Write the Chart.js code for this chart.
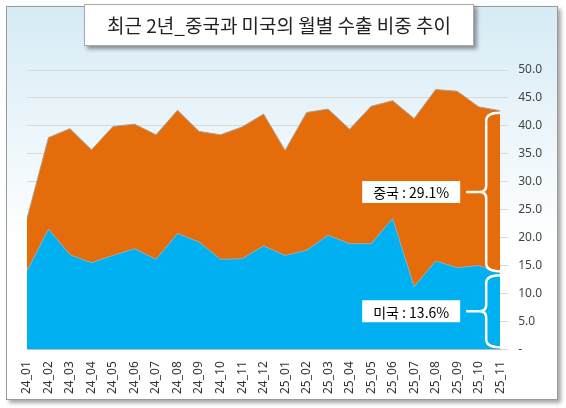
<!DOCTYPE html>
<html><head><meta charset="utf-8">
<script src="https://cdn.jsdelivr.net/npm/chart.js@4"></script>
<style>
body{margin:0;background:#fff;width:566px;height:408px;overflow:hidden;font-family:"Noto Sans CJK KR",sans-serif}
#frame{position:absolute;left:6px;top:6px;width:550px;height:392px;border:1px solid #9a9a9a;box-shadow:3px 3px 4px rgba(0,0,0,0.35);background:linear-gradient(#d6ebf5 0%,#ffffff 60%,#ffffff 100%)}
#title{position:absolute;left:84px;top:4px;width:388px;height:40px;background:#fff;border:1px solid #aaa;box-shadow:3px 3px 4px rgba(0,0,0,0.4);font-size:19px;text-align:center;line-height:40px;color:#222;z-index:2}
#wrap{position:absolute;left:0;top:0;width:566px;height:408px}
</style></head><body>
<div id="frame"></div>
<div id="title">최근 2년_중국과 미국의 월별 수출 비중 추이</div>
<div id="wrap"><canvas id="c" width="566" height="408"></canvas></div>
<script>
const categories=["24_01","24_02","24_03","24_04","24_05","24_06","24_07","24_08","24_09","24_10","24_11","24_12","25_01","25_02","25_03","25_04","25_05","25_06","25_07","25_08","25_09","25_10","25_11"];
const usValues=[14.0,21.5,16.9,15.5,16.8,18.0,16.1,20.7,19.2,16.1,16.2,18.5,16.8,17.7,20.4,18.9,18.9,23.4,11.2,15.8,14.6,15.0,13.6];
const totalValues=[23.4,37.9,39.5,35.7,39.9,40.3,38.4,42.8,39.0,38.4,39.8,42.1,35.6,42.4,43.0,39.4,43.5,44.5,41.3,46.5,46.2,43.4,42.7];
const chinaValues=totalValues.map((t,i)=>+(t-usValues[i]).toFixed(1));
const yTicks=[0,5,10,15,20,25,30,35,40,45,50];

const braces={id:'braces',afterDatasetsDraw(ch){
  const c=ch.ctx,y=ch.scales.y,x=ch.scales.x;
  const bx=x.right-14;
  const us=usValues[usValues.length-1],cn=chinaValues[chinaValues.length-1];
  function brace(v0,v1,label){
    const top=y.getPixelForValue(v1)+2,bot=y.getPixelForValue(v0)-2,mid=(top+bot)/2;
    c.save();c.strokeStyle='#fff';c.lineWidth=2.5;c.beginPath();
    c.moveTo(bx+14,top);c.quadraticCurveTo(bx,top,bx,top+8);
    c.lineTo(bx,mid-6);c.quadraticCurveTo(bx,mid,bx-7,mid);
    c.quadraticCurveTo(bx,mid,bx,mid+6);c.lineTo(bx,bot-8);
    c.quadraticCurveTo(bx,bot,bx+14,bot);c.stroke();
    c.beginPath();c.moveTo(bx-7,mid);c.lineTo(bx-20,mid);c.stroke();
    c.font='14px "Noto Sans CJK KR"';
    const w=c.measureText(label).width+22;
    c.fillStyle='#fff';c.fillRect(bx-26-w,mid-11,w,22);
    c.fillStyle='#000';c.textBaseline='middle';c.textAlign='center';
    c.fillText(label,bx-26-w/2,mid+1);c.restore();
  }
  brace(us,us+cn,'중국 : '+cn.toFixed(1)+'%');
  brace(0,us,'미국 : '+us.toFixed(1)+'%');
}};

new Chart(document.getElementById('c'),{
  type:'line',
  data:{labels:categories,datasets:[
    {label:'미국',data:usValues,fill:'origin',backgroundColor:'#00b0f0',borderColor:'#8fa9b5',borderWidth:1,pointRadius:0,tension:0},
    {label:'중국',data:chinaValues,fill:'-1',backgroundColor:'#e46c0a',borderColor:'#b0a090',borderWidth:1,pointRadius:0,tension:0}
  ]},
  options:{responsive:false,animation:false,
    layout:{padding:{left:27,top:70,right:14,bottom:10}},
    plugins:{legend:{display:false},tooltip:{enabled:false}},
    scales:{
      x:{offset:false,grid:{display:false},border:{color:'#bbb'},
        ticks:{maxRotation:90,minRotation:90,autoSkip:false,color:'#333',padding:4,font:{size:12,family:'Noto Sans'}}},
      y:{stacked:true,position:'right',min:0,max:50,
        afterBuildTicks:a=>{a.ticks=yTicks.map(v=>({value:v}));},
        grid:{color:'#d9d9d9'},border:{display:false},
        ticks:{color:'#444',padding:10,font:{size:12,family:'Noto Sans'},callback:v=>v===0?'-':v.toFixed(1)}}
    }},
  plugins:[braces]
});
</script></body></html>
